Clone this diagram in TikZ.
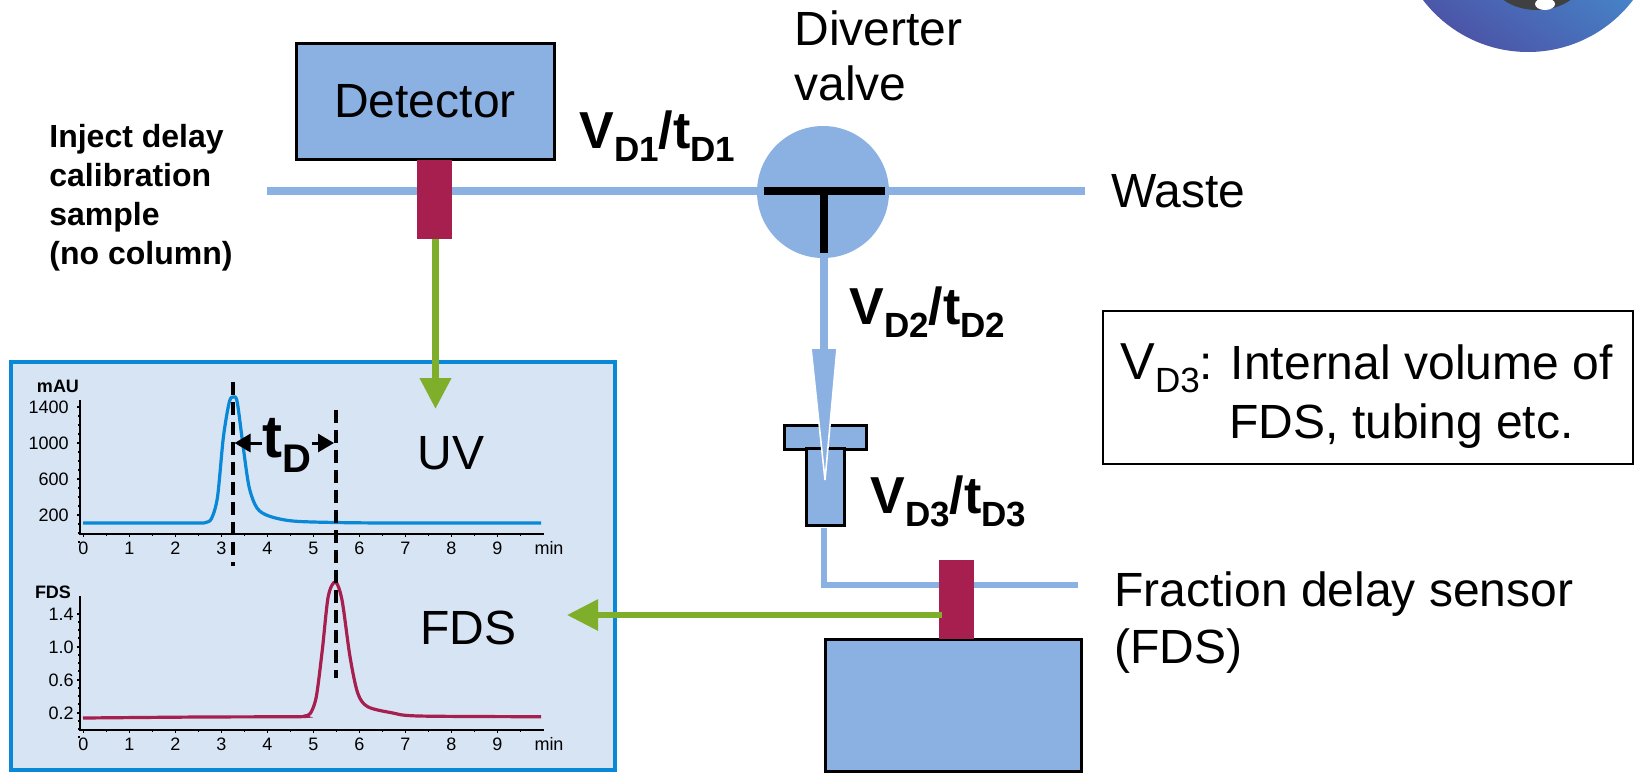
\documentclass[tikz,border=0pt]{standalone}
\usepackage{fontspec}
\setmainfont{Liberation Sans}
\usepackage{tikz}
\usetikzlibrary{arrows.meta}
\definecolor{pipeblue}{HTML}{8BB0E2}
\definecolor{panelblue}{HTML}{D7E4F4}
\definecolor{rimblue}{HTML}{0A88D8}
\definecolor{sensorred}{HTML}{A71F4E}
\definecolor{signalgreen}{HTML}{7FAF2A}
\definecolor{logolow}{HTML}{4C55A8}
\definecolor{logohigh}{HTML}{3FB4EA}
\newcommand{\fsize}[1]{\fontsize{#1}{#1}\selectfont}
\newcommand{\lowsub}[1]{\raisebox{-6.5pt}{\fsize{17.5}\bfseries #1}}
\newcommand{\delaylabel}[1]{{\fsize{26}\bfseries V\lowsub{D#1}/t\lowsub{D#1}}}
\tikzset{
  pipe/.style={pipeblue, line width=4pt},
  thinpipe/.style={pipeblue, line width=3pt},
  blockbox/.style={draw=black, fill=pipeblue, line width=1.5pt, inner sep=0pt},
  sensorbox/.style={fill=sensorred, minimum width=17.5pt, minimum height=39.5pt, inner sep=0pt},
  bigtext/.style={font=\fsize{24}, anchor=west, inner sep=0pt},
  tick/.style={black, line width=.6pt},
  ticktext/.style={font=\fsize{9}, inner sep=0pt},
  signal/.style={signalgreen, line width=#1, -{Triangle[length=15.5pt,width=15pt]}},
  dashline/.style={black, line width=2pt, dash pattern=on 6.5pt off 3.5pt},
  spanarrow/.style={black, line width=1.5pt, -{Triangle[length=8pt,width=9pt]}}
}
\begin{document}
\begin{tikzpicture}[x=.5pt,y=-.5pt]
\useasboundingbox (0,0) rectangle (1636,772);
% logo at the corner
\begin{scope}
  \clip (0,0) rectangle (1636,772);
  \shade[bottom color=logolow, top color=logohigh, shading angle=-35] (1528,-80) circle (132);
  \fill[black!75] (1537,-22) ellipse (46 and 32);
  \fill[white] (1545,4) ellipse (10 and 6);
\end{scope}
% flow tee under the pipes
\node[blockbox, minimum width=41pt, minimum height=12pt] (teetop) at (825,437) {};
\node[blockbox, minimum width=19pt, minimum height=38.5pt] (teestem) at (825,487) {};
\fill[pipeblue, draw=white, line width=.8pt] (811,348) -- (837,348) -- (825,480) -- cycle;
% pipes
\coordinate (inlet) at (267,191);
\coordinate (wasteend) at (1085,191);
\coordinate (arrowbase) at (824,349);
\coordinate (bendpoint) at (824,585);
\coordinate (fdsend) at (1078,585);
\draw[pipe] (inlet) -- (wasteend);
\draw[pipe] (arrowbase) -- (824,200);
\draw[thinpipe] (824,528) -- (bendpoint) -- (fdsend);
% detector and sensors
\node[blockbox, minimum width=129pt, minimum height=58pt] (detector) at (425,101) {\fsize{24}Detector};
\node[sensorbox] (uvcell) at (434.5,199.5) {};
\node[blockbox, minimum width=128pt, minimum height=66pt] (collector) at (953,705.5) {};
\node[sensorbox] (fdscell) at (956,599.5) {};
% valve
\node[circle, fill=pipeblue, minimum size=66pt, inner sep=0pt] (valve) at (823,192) {};
\draw[black, line width=4pt] (764,191) -- (885,191);
\draw[black, line width=4pt] (824,191) -- (824,253);
\node[bigtext] (valvetext) at (794,28) {Diverter};
\node[bigtext] (valvetext2) at (794,83) {valve};
\node[bigtext] (wastetext) at (1111,191) {Waste};
% delay labels
\node[anchor=base west, inner sep=0pt] (vone) at (579,148) {\delaylabel{1}};
\node[anchor=base west, inner sep=0pt] (vtwo) at (849,324) {\delaylabel{2}};
\node[anchor=base west, inner sep=0pt] (vthree) at (870,513) {\delaylabel{3}};
% left text
\node[font=\fontsize{16}{19.5}\selectfont\bfseries, align=left, anchor=north west, inner sep=0pt] (injecttext) at (49,124)
  {Inject delay\\calibration\\sample\\(no column)};
% right texts
\node[bigtext] (fdstext) at (1114,594) {Fraction delay sensor};
\node[bigtext] (fdstext2) at (1114,651) {(FDS)};
\draw[black, line width=.8pt] (1103,311) rectangle (1633,464);
\node[bigtext, anchor=base west] (volumetext) at (1120,379) {{\fsize{26}V}\raisebox{-6.5pt}{\fsize{17.5}D3}: Internal volume of};
\node[bigtext, anchor=base west] (volumetext2) at (1229,438) {FDS, tubing etc.};
% chart panel
\draw[rimblue, fill=panelblue, line width=2pt] (11,362) rectangle (615,770);
% UV chart
\draw[tick] (80,400) -- (80,534) -- (544,534);
\foreach \t in {0,...,9} {
  \node[ticktext] (uvx\t) at (83.4+46*\t,548) {\t};
  \draw[tick] (83.4+46*\t,534) -- (83.4+46*\t,536.5);
  \draw[tick] (106.4+46*\t,534) -- (106.4+46*\t,536);
}
\foreach \v/\y in {1400/407,1000/443,600/479,200/515} {
  \node[ticktext, anchor=east] (uvy\v) at (69,\y) {\v};
  \draw[tick] (77,\y) -- (80,\y);
  \draw[tick] (78,\y+9) -- (80,\y+9);
  \draw[tick] (78,\y+18) -- (80,\y+18);
  \draw[tick] (78,\y+27) -- (80,\y+27);
}
\node[ticktext] (uvmin) at (549,548) {min};
\node[ticktext, font=\fsize{9}\bfseries] (uvunit) at (58,386) {mAU};
\draw[rimblue, line width=1.6pt] plot[smooth, tension=.5] coordinates {
  (83,523) (150,523) (198,523) (205.6,522.5) (211.5,518.5) (217.5,497) (223.4,437) (229.3,402) (233.3,397)
  (237.2,402) (243.2,447) (249.1,487) (257,508) (268.9,516) (292.6,521) (336,522.5) (395,523) (541,523)};
% FDS chart
\draw[tick] (80,596) -- (80,730) -- (544,730);
\foreach \t in {0,...,9} {
  \node[ticktext] (fdsx\t) at (83.4+46*\t,744) {\t};
  \draw[tick] (83.4+46*\t,730) -- (83.4+46*\t,732.5);
  \draw[tick] (106.4+46*\t,730) -- (106.4+46*\t,732);
}
\foreach \v/\y in {1.4/614,1.0/647,0.6/680,0.2/713} {
  \node[ticktext, anchor=east] (fdsy\v) at (74,\y) {\v};
  \draw[tick] (77,\y) -- (80,\y);
  \draw[tick] (78,\y+8) -- (80,\y+8);
  \draw[tick] (78,\y+16) -- (80,\y+16);
  \draw[tick] (78,\y+24) -- (80,\y+24);
}
\node[ticktext] (fdsmin) at (549,744) {min};
\node[ticktext, font=\fsize{9}\bfseries] (fdsunit) at (53,592) {FDS};
\draw[sensorred, line width=1.6pt] plot[smooth, tension=.5] coordinates {
  (83,718) (200,717) (296,716.7) (304.5,716) (310.4,713.3) (316.3,696.7) (322.3,650) (328.2,596.7) (335.3,582)
  (342,600) (350,656.7) (357.8,693.3) (367.7,706.7) (391.5,712.7) (419,716) (541,716.7)};
% retention marks
\coordinate (markonetop) at (232.5,382);
\coordinate (markonebot) at (232.5,566);
\coordinate (marktwotop) at (335.7,410);
\coordinate (marktwobot) at (335.7,678);
\draw[dashline] (markonetop) -- (markonebot);
\draw[dashline] (marktwotop) -- (marktwobot);
\node[anchor=base west, inner sep=0pt] (tdlabel) at (262,457) {\fsize{30}\bfseries t\raisebox{-7.5pt}{\fsize{20}\bfseries D}};
\coordinate (spanleft) at (234.5,443);
\coordinate (spanright) at (334,443);
\draw[spanarrow] (tdlabel.west |- spanleft) -- (spanleft);
\draw[spanarrow] (tdlabel.east |- spanright) -- (spanright);
\node[font=\fsize{24}, inner sep=0pt] (uvtext) at (451,453) {UV};
\node[font=\fsize{24}, inner sep=0pt] (fdschart) at (468.6,628) {FDS};
% signals
\coordinate (uvtip) at (435.5,409);
\coordinate (fdsstart) at (942,615);
\coordinate (fdstip) at (567,615);
\draw[signal=3.5pt] (uvcell.south -| uvtip) -- (uvtip);
\draw[signal=3pt] (fdsstart) -- (fdstip);
\end{tikzpicture}
\end{document}
